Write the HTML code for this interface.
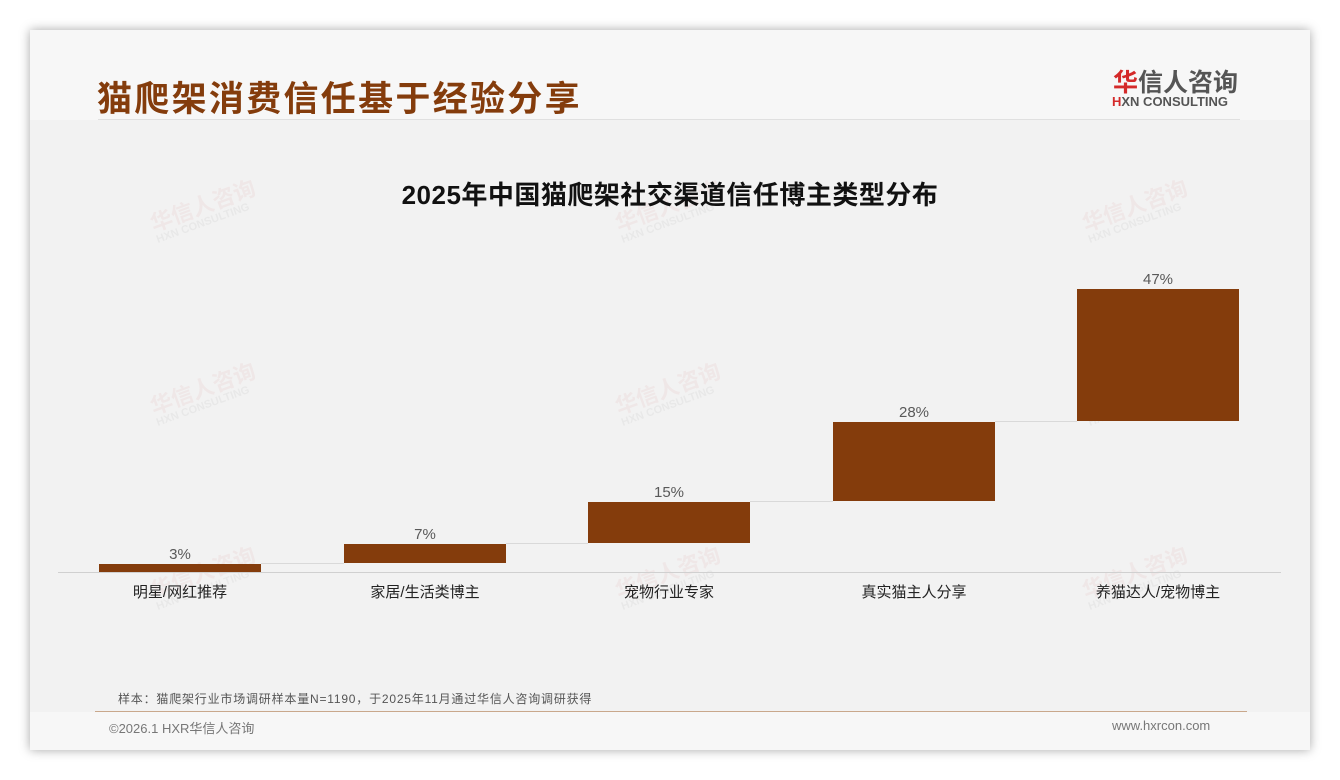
<!DOCTYPE html>
<html><head><meta charset="utf-8"><style>
body{margin:0;width:1340px;height:780px;background:#fff;position:relative;overflow:hidden;font-family:"Liberation Sans","Noto Sans CJK SC",sans-serif}
.card{position:absolute;left:30px;top:30px;width:1280px;height:720px;background:#f7f7f7;box-shadow:0 0 10px rgba(0,0,0,.35)}
.chart{position:absolute;left:30px;top:120px;width:1280px;height:592px;background:#f2f2f2}
.abs{position:absolute}
.wm{position:absolute;color:rgba(200,60,60,.06);font-size:22px;font-weight:bold;transform:rotate(-20deg);line-height:1}
.wm span{display:block;font-size:11px;color:rgba(120,120,120,.07)}
.bar{position:absolute;background:#843c0c}
.lbl{position:absolute;width:162px;text-align:center;font-size:15px;color:#595959}
.cat{position:absolute;width:200px;text-align:center;font-size:15px;color:#222;top:581px}
.con{position:absolute;height:1px;background:#d9d9d9}
</style></head><body>
<div class="card"></div>
<div class="chart"></div>
<div class="abs" style="left:97px;top:71px;font-size:35px;font-weight:bold;color:#843c0c;letter-spacing:2.3px">猫爬架消费信任基于经验分享</div>
<div class="abs" style="left:98px;top:119px;width:1142px;height:1px;background:#e0e0e0"></div>
<div class="abs" style="left:1113px;top:63px;font-size:25px;font-weight:bold;color:#555"><span style="color:#d42a2a">华</span>信人咨询</div>
<div class="abs" style="left:1112px;top:94px;font-size:13px;font-weight:bold;color:#555"><span style="color:#d42a2a">H</span>XN CONSULTING</div>
<div class="wm" style="left:150px;top:195px">华信人咨询<span>HXN CONSULTING</span></div>
<div class="wm" style="left:615px;top:195px">华信人咨询<span>HXN CONSULTING</span></div>
<div class="wm" style="left:1082px;top:195px">华信人咨询<span>HXN CONSULTING</span></div>
<div class="wm" style="left:150px;top:378px">华信人咨询<span>HXN CONSULTING</span></div>
<div class="wm" style="left:615px;top:378px">华信人咨询<span>HXN CONSULTING</span></div>
<div class="wm" style="left:1082px;top:378px">华信人咨询<span>HXN CONSULTING</span></div>
<div class="wm" style="left:150px;top:562px">华信人咨询<span>HXN CONSULTING</span></div>
<div class="wm" style="left:615px;top:562px">华信人咨询<span>HXN CONSULTING</span></div>
<div class="wm" style="left:1082px;top:562px">华信人咨询<span>HXN CONSULTING</span></div>
<div class="abs" style="left:0;width:1340px;top:175px;text-align:center;font-size:26px;font-weight:bold;color:#111;letter-spacing:0.5px">2025年中国猫爬架社交渠道信任博主类型分布</div>
<div class="con" style="left:261px;width:83px;top:563px"></div>
<div class="con" style="left:506px;width:82px;top:543px"></div>
<div class="con" style="left:750px;width:83px;top:501px"></div>
<div class="con" style="left:995px;width:82px;top:421px"></div>
<div class="abs" style="left:58px;width:1223px;top:572px;height:1px;background:#d0d0d0"></div>
<div class="bar" style="left:99px;width:162px;top:564px;height:8px"></div>
<div class="bar" style="left:344px;width:162px;top:544px;height:19px"></div>
<div class="bar" style="left:588px;width:162px;top:502px;height:41px"></div>
<div class="bar" style="left:833px;width:162px;top:422px;height:79px"></div>
<div class="bar" style="left:1077px;width:162px;top:289px;height:132px"></div>
<div class="lbl" style="left:99px;top:546px">3%</div>
<div class="lbl" style="left:344px;top:526px">7%</div>
<div class="lbl" style="left:588px;top:484px">15%</div>
<div class="lbl" style="left:833px;top:404px">28%</div>
<div class="lbl" style="left:1077px;top:271px">47%</div>
<div class="cat" style="left:80px">明星/网红推荐</div>
<div class="cat" style="left:325px">家居/生活类博主</div>
<div class="cat" style="left:569px">宠物行业专家</div>
<div class="cat" style="left:814px">真实猫主人分享</div>
<div class="cat" style="left:1058px">养猫达人/宠物博主</div>
<div class="abs" style="left:118px;top:690px;font-size:12px;color:#555;letter-spacing:0.8px">样本：猫爬架行业市场调研样本量N=1190，于2025年11月通过华信人咨询调研获得</div>
<div class="abs" style="left:95px;top:711px;width:1152px;height:1px;background:#c9a88c"></div>
<div class="abs" style="left:109px;top:718px;font-size:13px;color:#777">©2026.1 HXR华信人咨询</div>
<div class="abs" style="left:1112px;top:718px;font-size:13px;color:#777">www.hxrcon.com</div>
</body></html>
